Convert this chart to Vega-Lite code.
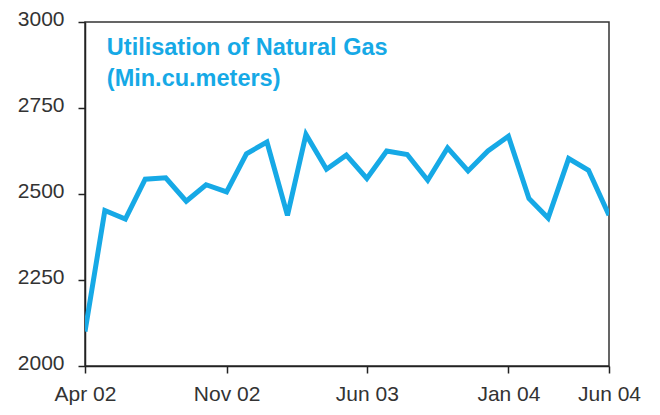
{
  "$schema": "https://vega.github.io/schema/vega-lite/v6.json",
  "width": 524,
  "height": 344,
  "autosize": {"type": "none"},
  "padding": {"left": 85, "top": 22, "right": 51, "bottom": 49},
  "background": "white",
  "config": {
    "font": "Liberation Sans",
    "view": {"stroke": "#333333", "strokeWidth": 1.5}
  },
  "datasets": {
    "gas": [
      {"month": "2002-04-01", "value": 2100},
      {"month": "2002-05-01", "value": 2452},
      {"month": "2002-06-01", "value": 2427},
      {"month": "2002-07-01", "value": 2543},
      {"month": "2002-08-01", "value": 2547},
      {"month": "2002-09-01", "value": 2479},
      {"month": "2002-10-01", "value": 2527},
      {"month": "2002-11-01", "value": 2506},
      {"month": "2002-12-01", "value": 2617},
      {"month": "2003-01-01", "value": 2651},
      {"month": "2003-02-01", "value": 2438},
      {"month": "2003-03-01", "value": 2673},
      {"month": "2003-04-01", "value": 2572},
      {"month": "2003-05-01", "value": 2613},
      {"month": "2003-06-01", "value": 2545},
      {"month": "2003-07-01", "value": 2625},
      {"month": "2003-08-01", "value": 2615},
      {"month": "2003-09-01", "value": 2540},
      {"month": "2003-10-01", "value": 2634},
      {"month": "2003-11-01", "value": 2567},
      {"month": "2003-12-01", "value": 2625},
      {"month": "2004-01-01", "value": 2668},
      {"month": "2004-02-01", "value": 2487},
      {"month": "2004-03-01", "value": 2430},
      {"month": "2004-04-01", "value": 2603},
      {"month": "2004-05-01", "value": 2569},
      {"month": "2004-06-01", "value": 2438}
    ],
    "titleText": [
      {"month": "2002-05-04", "value": 2903, "text": "Utilisation of Natural Gas"},
      {"month": "2002-05-04", "value": 2813, "text": "(Min.cu.meters)"}
    ]
  },
  "layer": [
    {
      "data": {"name": "gas"},
      "mark": {"type": "line", "color": "#16A9E6", "strokeWidth": 5, "strokeJoin": "miter", "clip": true},
      "encoding": {
        "x": {
          "field": "month",
          "type": "temporal",
          "scale": {
            "type": "utc",
            "domain": [
              {"year": 2002, "month": 4, "date": 1, "utc": true},
              {"year": 2004, "month": 6, "date": 1, "utc": true}
            ]
          },
          "axis": {
            "title": null,
            "grid": false,
            "ticks": true,
            "values": [
              {"year": 2002, "month": 4, "date": 1, "utc": true},
              {"year": 2002, "month": 11, "date": 1, "utc": true},
              {"year": 2003, "month": 6, "date": 1, "utc": true},
              {"year": 2004, "month": 1, "date": 1, "utc": true},
              {"year": 2004, "month": 6, "date": 1, "utc": true}
            ],
            "labelExpr": "utcFormat(datum.value, '%b %y')",
            "domainColor": "#222222",
            "domainWidth": 1.5,
            "tickColor": "#222222",
            "tickWidth": 1.5,
            "tickSize": 7,
            "labelFontSize": 21,
            "labelColor": "#333333",
            "labelPadding": 10,
            "labelFlush": false,
            "labelOverlap": false
          }
        },
        "y": {
          "field": "value",
          "type": "quantitative",
          "scale": {"domain": [2000, 3000], "nice": false, "zero": false},
          "axis": {
            "title": null,
            "grid": false,
            "ticks": true,
            "values": [2000, 2250, 2500, 2750, 3000],
            "format": "d",
            "domainColor": "#222222",
            "domainWidth": 1.5,
            "tickColor": "#222222",
            "tickWidth": 1.5,
            "tickSize": 7,
            "labelFontSize": 21,
            "labelColor": "#333333",
            "labelPadding": 14,
            "labelOffset": -3,
            "labelFlush": false,
            "labelOverlap": false
          }
        }
      }
    },
    {
      "data": {"name": "titleText"},
      "mark": {"type": "text", "align": "left", "baseline": "alphabetic", "fontSize": 23.5, "fontWeight": "bold", "color": "#16A9E6"},
      "encoding": {
        "x": {"field": "month", "type": "temporal"},
        "y": {"field": "value", "type": "quantitative"},
        "text": {"field": "text"}
      }
    }
  ]
}
